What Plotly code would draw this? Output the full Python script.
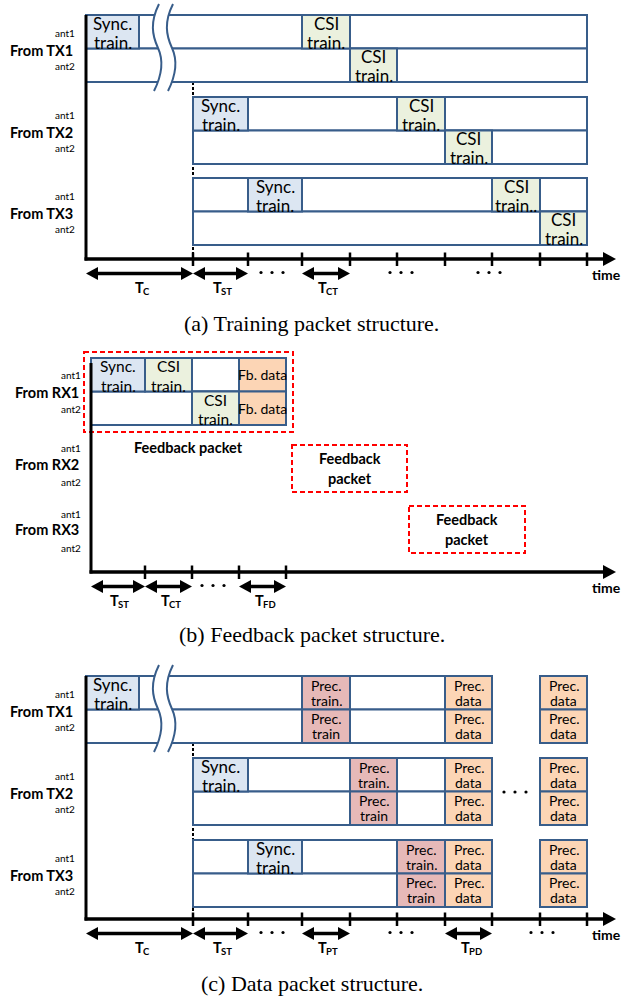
import plotly.graph_objects as go

W, H = 623, 1002
OUTLINE = "#385D8A"
FILLS = {"sync": "#DCE6F2", "csi": "#EBF1DE", "csi2": "#EBF1DE", "fb": "#FCD5B5",
         "pt1": "#E6B9B8", "pt2": "#E6B9B8", "pd": "#FCD5B5"}
LABELS = {"sync": ["Sync.", "train."], "csi": ["CSI", "train."], "csi2": ["CSI", "train.."],
          "fb": ["Fb. data"], "pt1": ["Prec.", "train."], "pt2": ["Prec.", "train"],
          "pd": ["Prec.", "data"]}
ROW_H = 33.5

# ---------------- Panel (a): training packet structure ----------------
A_GROUP_NAMES = ["From TX1", "From TX2", "From TX3"]
A_GROUP_TOPS = [15, 97, 178]
A_ORIGIN_X = 86
A_AXIS_Y = 259
A_TICKS = [193, 248, 302, 350, 397, 445, 492, 540, 587]
# rows: (group, ant, x0, x1)
A_ROWS = [(0, 0, 86, 587), (0, 1, 86, 587), (1, 0, 193, 587), (1, 1, 193, 587),
          (2, 0, 193, 587), (2, 1, 193, 587)]
# blocks: (group, ant, x0, x1, kind)
A_BLOCKS = [(0, 0, 86, 139, "sync"), (0, 0, 302, 350, "csi"), (0, 1, 350, 397, "csi"),
            (1, 0, 193, 248, "sync"), (1, 0, 397, 445, "csi"), (1, 1, 445, 492, "csi"),
            (2, 0, 248, 302, "sync"), (2, 0, 492, 540, "csi2"), (2, 1, 540, 587, "csi")]
A_SPANS = [(86, 193, "C"), (193, 248, "ST"), (302, 350, "CT")]
A_DOTS = [272, 401, 489]

# ---------------- Panel (b): feedback packet structure ----------------
B_GROUP_NAMES = ["From RX1", "From RX2", "From RX3"]
B_LABEL_Y = [392, 464, 529]
B_ANT_Y = [(375, 409), (448, 482), (514, 548)]
B_GROUP_TOPS = [358]
B_ORIGIN_X = 91
B_AXIS_Y = 572
B_TICKS = [145, 192, 239, 286]
B_ROWS = [(0, 0, 91, 286), (0, 1, 91, 286)]
B_BLOCKS = [(0, 0, 91, 145, "sync"), (0, 0, 145, 192, "csi"), (0, 0, 239, 286, "fb"),
            (0, 1, 192, 239, "csi"), (0, 1, 239, 286, "fb")]
B_SPANS = [(91, 145, "ST"), (145, 192, "CT"), (239, 286, "FD")]
B_DOTS = [213]
# feedback packet boxes: (x0, y0, x1, y1)
B_FB_BOXES = [(84, 352, 293, 432), (292, 445, 407, 492), (409, 506, 525, 553)]

# ---------------- Panel (c): data packet structure ----------------
C_GROUP_NAMES = ["From TX1", "From TX2", "From TX3"]
C_GROUP_TOPS = [676, 758, 840]
C_ORIGIN_X = 86
C_AXIS_Y = 919
C_TICKS = [193, 248, 302, 350, 397, 445, 492, 540, 587]
C_ROWS = []
for g, start in zip(range(3), [86, 193, 193]):
    for a in range(2):
        C_ROWS.append((g, a, start, 492))
        C_ROWS.append((g, a, 540, 587))
C_BLOCKS = [(0, 0, 86, 139, "sync"), (0, 0, 302, 350, "pt1"), (0, 1, 302, 350, "pt2"),
            (1, 0, 193, 248, "sync"), (1, 0, 350, 397, "pt1"), (1, 1, 350, 397, "pt2"),
            (2, 0, 248, 302, "sync"), (2, 0, 397, 445, "pt1"), (2, 1, 397, 445, "pt2")]
for g in range(3):
    for a in range(2):
        C_BLOCKS.append((g, a, 445, 492, "pd"))
        C_BLOCKS.append((g, a, 540, 587, "pd"))
C_SPANS = [(86, 193, "C"), (193, 248, "ST"), (302, 350, "PT"), (445, 492, "PD")]
C_DOTS = [272, 401, 542]
C_MID_DOTS = [(515, 792)]

CAPTIONS = [("(a) Training packet structure.", 323),
            ("(b) Feedback packet structure.", 634),
            ("(c) Data packet structure.", 983)]

FONT = "Lato"
shapes = []
annotations = []


def text(x, y, s, size, bold=False, xanchor="center", family=FONT, color="black", box_h=None):
    ann = dict(x=x, y=y, xref="x", yref="y", text=s, showarrow=False,
               xanchor=xanchor, yanchor="middle",
               font=dict(family=family, size=size, color=color,
                         weight="bold" if bold else "normal"))
    if box_h is not None:
        ann["height"] = box_h
        ann["borderpad"] = 0
    annotations.append(ann)


def rect(x0, y0, x1, y1, fill, color=OUTLINE, width=2, dash=None):
    line = dict(color=color, width=width)
    if dash:
        line["dash"] = dash
    shapes.append(dict(type="rect", xref="x", yref="y", x0=x0, y0=y0, x1=x1, y1=y1,
                       fillcolor=fill, line=line, layer="above"))


def seg(x0, y0, x1, y1, color="black", width=3, dash=None):
    line = dict(color=color, width=width)
    if dash:
        line["dash"] = dash
    shapes.append(dict(type="line", xref="x", yref="y", x0=x0, y0=y0, x1=x1, y1=y1,
                       line=line, layer="above"))


def path(p, fill="black", color=None, width=0):
    shapes.append(dict(type="path", xref="x", yref="y", path=p, fillcolor=fill,
                       line=dict(color=color or "rgba(0,0,0,0)", width=width), layer="above"))


def tri(x, y, direction, L=12, h=6.5):
    if direction == "left":
        p = f"M {x} {y} L {x+L} {y-h} L {x+L} {y+h} Z"
    else:
        p = f"M {x} {y} L {x-L} {y-h} L {x-L} {y+h} Z"
    path(p)


def dots(cx, cy):
    for dx in (-11, 0, 11):
        shapes.append(dict(type="circle", xref="x", yref="y", x0=cx+dx-1.6, x1=cx+dx+1.6,
                           y0=cy-1.6, y1=cy+1.6, fillcolor="black",
                           line=dict(width=0), layer="above"))


def two_lines(cx, y0, lines, size, ya, yb):
    h = (yb - ya) - 0.5
    text(cx, y0 + ya, lines[0], size, box_h=h)
    text(cx, y0 + yb, lines[1], size, box_h=h)


def draw_rows(rows, blocks, tops, big=True):
    for g, a, x0, x1 in rows:
        y0 = tops[g] + a * ROW_H
        rect(x0, y0, x1, y0 + ROW_H, "white")
    for g, a, x0, x1, kind in blocks:
        y0 = tops[g] + a * ROW_H
        rect(x0, y0, x1, y0 + ROW_H, FILLS[kind])
        lines = LABELS[kind]
        cx = (x0 + x1) / 2
        if len(lines) == 1:
            text(cx, y0 + ROW_H / 2, lines[0], 14)
        elif kind.startswith("p"):
            two_lines(cx, y0, lines, 14, 9.0, 24.0)
        elif big:
            two_lines(cx, y0, lines, 17, 8.0, 27.0)
        else:
            two_lines(cx, y0, lines, 15.5, 7.5, 27.0)


def draw_break(top):
    # white gap with two wavy lines (axis break)
    l = f"M 159 {top+4} C 150 {top+22} 152 {top+35} 158 {top+48} S 162 {top+75} 154 {top+91}"
    fill = (f"M 159 {top+4} C 150 {top+22} 152 {top+35} 158 {top+48} S 162 {top+75} 154 {top+91} "
            f"L 168 {top+91} C 176 {top+75} 178 {top+62} 172 {top+48} S 164 {top+22} 173 {top+4} Z")
    r = f"M 173 {top+4} C 164 {top+22} 166 {top+35} 172 {top+48} S 176 {top+75} 168 {top+91}"
    path(fill, fill="white")
    path(l, fill="rgba(0,0,0,0)", color=OUTLINE, width=2)
    path(r, fill="rgba(0,0,0,0)", color=OUTLINE, width=2)


def t_label(cx, y, sub):
    tw = 8.5
    sw = 6.3 * len(sub)
    left = cx - (tw + sw) / 2
    text(left, y, "T", 14.5, bold=True, xanchor="left")
    text(left + tw - 0.5, y + 4, sub, 9.5, bold=True, xanchor="left")


def draw_axis(ox, top, ay, ticks, spans, dotlist):
    seg(ox, top, ox, ay + 1.5, width=3)
    seg(ox - 1.5, ay, 604, ay, width=3.5)
    tri(616, ay, "right", L=13, h=7)
    for t in ticks:
        seg(t, ay - 6.5, t, ay + 7, width=2.5)
    arrow_y = ay + 14.5
    for x0, x1, sub in spans:
        seg(x0 + 8, arrow_y, x1 - 8, arrow_y, width=3.5)
        tri(x0, arrow_y, "left")
        tri(x1, arrow_y, "right")
        t_label((x0 + x1) / 2 + 1, ay + 28, sub)
    for d in dotlist:
        dots(d, arrow_y - 1)
    text(623, arrow_y + 1, "time", 14, bold=True, xanchor="right")


def draw_group_labels(names, label_y, ant_y, right_x):
    for name, ly, (y1, y2) in zip(names, label_y, ant_y):
        text(8 if right_x < 80 else 13, ly, name, 14.5, bold=True, xanchor="left")
        text(right_x, y1, "ant1", 10, xanchor="right")
        text(right_x, y2, "ant2", 10, xanchor="right")


# ---- Panel (a)
seg(193, A_GROUP_TOPS[0] + 2 * ROW_H, 193, A_AXIS_Y, width=2, dash="3px,2px")
draw_rows(A_ROWS, A_BLOCKS, A_GROUP_TOPS)
draw_break(0)
draw_axis(A_ORIGIN_X, A_GROUP_TOPS[0], A_AXIS_Y, A_TICKS, A_SPANS, A_DOTS)
draw_group_labels(A_GROUP_NAMES, [t + ROW_H + 2 for t in A_GROUP_TOPS],
                  [(t + ROW_H / 2 + 1, t + 1.5 * ROW_H + 1) for t in A_GROUP_TOPS], 77)

# ---- Panel (b)
draw_rows(B_ROWS, B_BLOCKS, B_GROUP_TOPS, big=False)
for x0, y0, x1, y1 in B_FB_BOXES:
    rect(x0, y0, x1, y1, "rgba(0,0,0,0)", color="#FF0000", width=2, dash="5px,3px")
draw_axis(B_ORIGIN_X, 363, B_AXIS_Y, B_TICKS, B_SPANS, B_DOTS)
draw_group_labels(B_GROUP_NAMES, B_LABEL_Y, B_ANT_Y, 83)
text(188, 447, "Feedback packet", 14.5, bold=True)
for x0, y0, x1, y1 in B_FB_BOXES[1:]:
    cx = (x0 + x1) / 2
    text(cx, y0 + 13, "Feedback", 14.5, bold=True)
    text(cx, y0 + 33, "packet", 14.5, bold=True)

# ---- Panel (c)
seg(193, C_GROUP_TOPS[0] + 2 * ROW_H, 193, C_AXIS_Y, width=2, dash="3px,2px")
draw_rows(C_ROWS, C_BLOCKS, C_GROUP_TOPS)
draw_break(661)
draw_axis(C_ORIGIN_X, C_GROUP_TOPS[0], C_AXIS_Y, C_TICKS, C_SPANS, C_DOTS)
for cx, cy in C_MID_DOTS:
    dots(cx, cy)
draw_group_labels(C_GROUP_NAMES, [t + ROW_H + 2 for t in C_GROUP_TOPS],
                  [(t + ROW_H / 2 + 1, t + 1.5 * ROW_H + 1) for t in C_GROUP_TOPS], 77)

for cap, y in CAPTIONS:
    text(W / 2, y, cap, 22, family="Liberation Serif")

fig = go.Figure(go.Scatter(x=[], y=[], hoverinfo="skip", showlegend=False))
fig.update_layout(width=W, height=H, margin=dict(l=0, r=0, t=0, b=0),
                  paper_bgcolor="white", plot_bgcolor="white",
                  xaxis=dict(range=[0, W], visible=False, fixedrange=True),
                  yaxis=dict(range=[H, 0], visible=False, fixedrange=True),
                  shapes=shapes, annotations=annotations, showlegend=False)
fig.write_html("out.html", config={"displayModeBar": False},
               post_script="document.body.style.margin='0';document.body.style.overflow='hidden';")
